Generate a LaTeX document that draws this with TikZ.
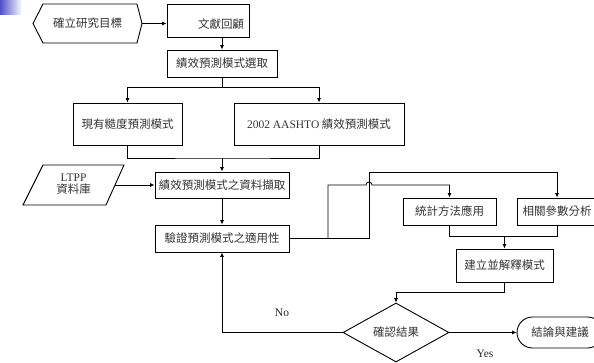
\documentclass[tikz,border=0pt]{standalone}
\usepackage{fontspec}
\setmainfont{Liberation Serif}
\newfontfamily\cjk{Noto Sans CJK TC}
\usetikzlibrary{arrows.meta,shapes.geometric}
\begin{document}
\begin{tikzpicture}[x=1pt,y=-1pt,
  box/.style={draw, line width=0.9pt, inner sep=0pt, font=\cjk\fontsize{11.5}{13}\selectfont, text=black!80},
  txt/.style={inner sep=0pt, font=\cjk\fontsize{11.5}{12}\selectfont, text=black!80},
  arr/.style={line width=0.8pt, -{Latex[length=4.5pt,width=4pt]}},
  ln/.style={line width=0.8pt},
  lbl/.style={inner sep=0pt, font=\fontsize{11.5}{13}\selectfont, text=black!85}
]
\useasboundingbox (0,0) rectangle (594,363);
\shade[left color={rgb,255:red,80;green,80;blue,200}, right color=white] (0,0) rectangle (22,15);

% start hexagon
\node[txt, minimum width=109pt, minimum height=39pt] (goal) at (87.5,23.5) {確立研究目標};
\draw[line width=0.9pt] (33,23.5) -- (43,4) -- (137,4) -- (142,23.5) -- (137,43) -- (43,43) -- cycle;

\node[box, minimum width=82pt, minimum height=33pt] (lit) at (208,20.5) {};
\node[txt] (littxt) at (221,24) {文獻回顧};

\node[box, minimum width=110pt, minimum height=27pt] (sel) at (222,63.5) {績效預測模式選取};
\node[box, minimum width=109pt, minimum height=42pt] (m1) at (127.5,124) {現有糙度預測模式};
\node[box, minimum width=170pt, minimum height=42pt] (m2) at (319,124) {{\rmfamily 2002 AASHTO} 績效預測模式};
\node[box, minimum width=134pt, minimum height=26pt] (ext) at (222,185) {績效預測模式之資料擷取};
\node[box, minimum width=134pt, minimum height=27pt] (ver) at (222,238.5) {驗證預測模式之適用性};

% LTPP parallelogram
\draw[line width=0.9pt] (43,165) -- (124,165) -- (106,205) -- (23,205) -- cycle;
\node[txt, align=center] (ltpp) at (73.5,184) {{\rmfamily LTPP}\\資料庫};
\coordinate (ltppR) at (115,185);

\node[box, minimum width=93pt, minimum height=27pt] (stat) at (449.5,211.5) {統計方法應用};
\node[box, minimum width=80pt, minimum height=27pt] (par) at (557,211.5) {相關參數分析};
\node[box, minimum width=97pt, minimum height=33pt] (build) at (504.5,265.5) {建立並解釋模式};
\node[box, diamond, minimum width=106pt, minimum height=59pt] (dia) at (396,332.5) {確認結果};
\node[box, rounded corners=15.5pt, minimum width=86pt, minimum height=31pt] (concl) at (560,332.5) {結論與建議};

\node[lbl] (yes) at (485,354) {Yes};
\node[lbl] (no) at (282,313) {No};

% connectors
\draw[arr] (goal.east) -- (goal.east -| lit.west);
\draw[arr] (lit.south -| sel.north) -- (sel.north);
\draw[arr] (sel.south) -- ++(0,10) -| (m1.north);
\draw[arr] (sel.south) -- ++(0,10) -| (m2.north);
\coordinate (j1) at (222,158);
\draw[ln] (m1.south) |- (j1) -| (m2.south);
\draw[arr] (j1) -- (ext.north);
\draw[arr] (ltppR) -- (ltppR -| ext.west);
\draw[arr] (ext.south) -- (ver.north);
\coordinate (v1) at (369,238.5);
\coordinate (v2) at (328,238.5);
\draw[arr] (ver.east) -- (v1) |- (par.north |- 0,172) -- (par.north);
\draw[arr] (v2) -- (328,185) -- (366,185) arc[start angle=180,end angle=360,radius=3] -- (stat.north |- 0,185) -- (stat.north);
\draw[ln] (stat.south) -- ++(0,11) -| (par.south);
\draw[arr] (build.north |- 0,236) -- (build.north);
\draw[arr] (build.south) -- ++(0,10) -| (dia.north);
\draw[arr] (dia.east) -- (concl.west);
\draw[arr] (dia.west) -| (ver.south);
\end{tikzpicture}
\end{document}
